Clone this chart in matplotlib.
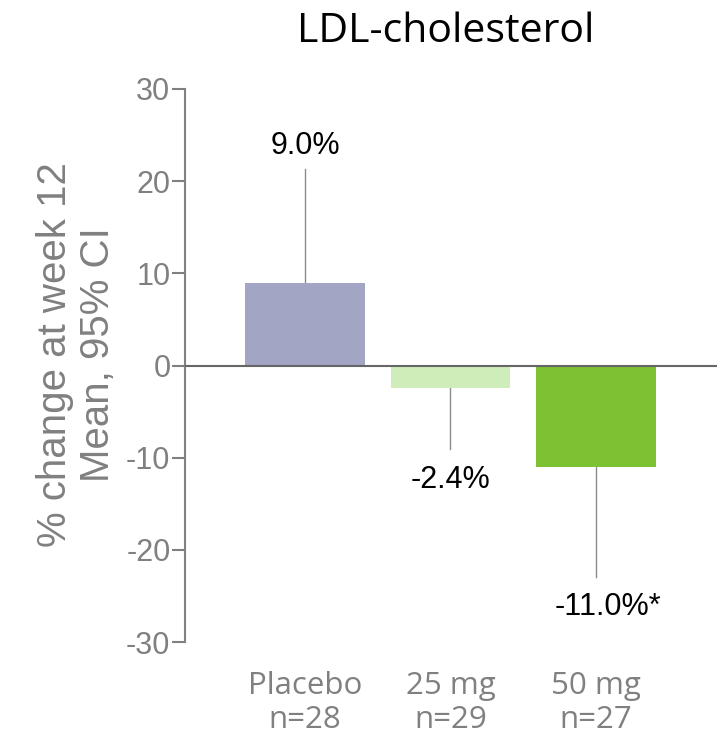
import matplotlib
matplotlib.use("Agg")
import matplotlib.pyplot as plt

# Data
groups = ["Placebo", "25 mg", "50 mg"]
n_per_group = [28, 29, 27]
mean_change = [9.0, -2.4, -11.0]
ci_outer = [21.3, -9.1, -23.0]          # outer end of the 95% CI drawn for each bar
value_labels = ["9.0%", "-2.4%", "-11.0%*"]
yticks = [-30, -20, -10, 0, 10, 20, 30]

bar_colors = ["#A2A5C3", "#CFEDB8", "#7CC232"]
gray = "#808080"

fig = plt.figure(figsize=(7.24, 7.40), dpi=100)
ax = fig.add_axes([185 / 724, 1 - 642 / 740, (717 - 185) / 724, (642 - 89) / 740])

x = list(range(len(groups)))
ax.bar(x, mean_change, width=0.82, color=bar_colors, zorder=2)

# One-sided CI whiskers
for xi, m, c in zip(x, mean_change, ci_outer):
    ax.plot([xi, xi], [m, c], color="#8c8c8c", lw=1.0, zorder=1)

# Value labels
label_y = [23.8, -12.4, -26.2]
for xi, txt, ly in zip(x, value_labels, label_y):
    dx = 0.08 if txt.endswith("*") else 0.0
    ax.text(xi + dx, ly, txt, ha="center", va="center", fontsize=22,
            family="Liberation Sans", color="black")

ax.axhline(0, color="#666666", lw=1.5, zorder=3)

ax.set_xlim(-0.825, 2.832)
ax.set_ylim(-30, 30)
ax.set_yticks(yticks)
ax.set_yticklabels([str(t) for t in yticks])
for s in ["top", "right", "bottom"]:
    ax.spines[s].set_visible(False)
ax.spines["left"].set_color(gray)
ax.spines["left"].set_linewidth(1.5)
ax.tick_params(axis="y", length=9.5, width=1.5, color=gray, labelcolor=gray,
               labelsize=22, pad=1)
for lbl in ax.get_yticklabels():
    lbl.set_family("Liberation Sans")

ax.set_xticks(x)
ax.set_xticklabels([f"{g}\nn={n}" for g, n in zip(groups, n_per_group)],
                   family="Open Sans", fontsize=22.5, color=gray, linespacing=1.15)
ax.tick_params(axis="x", length=0, pad=21)

fig.text(76.5 / 724, 1 - 355 / 740, "% change at week 12\nMean, 95% CI",
         rotation=90, ha="center", va="center", multialignment="center",
         fontsize=29, family="Liberation Sans", color=gray, linespacing=1.18)

fig.text(446 / 724, 1 - 42 / 740, "LDL-cholesterol", ha="center", va="baseline",
         fontsize=29.5, family="Open Sans", color="black")

fig.savefig("out.png", dpi=100)
